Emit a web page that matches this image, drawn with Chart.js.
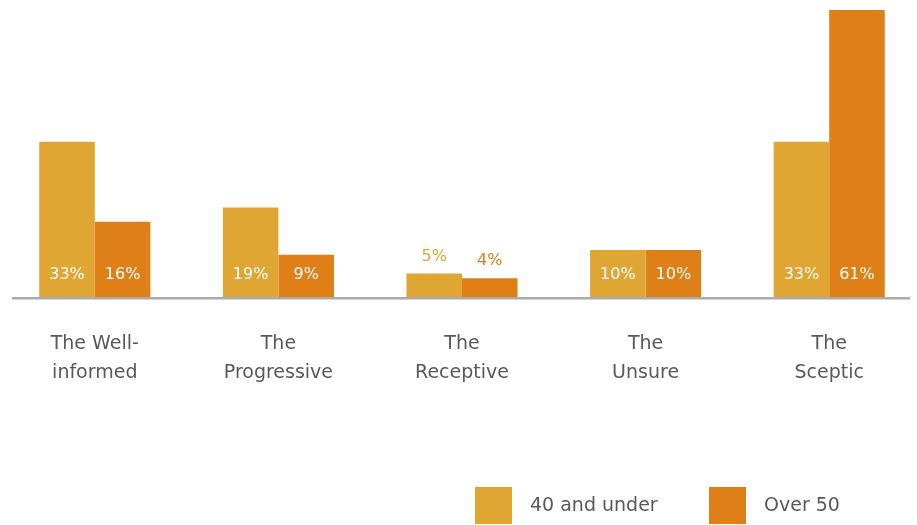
<!DOCTYPE html>
<html lang="en">
<head>
    <meta charset="UTF-8" />
    <title>Segments by age</title>
    <style>
        body { margin: 0; overflow: hidden; background: #fff; }
    </style>
</head>
<body>
    <canvas id="myChart" width="921" height="525"></canvas>

    <script src="https://cdn.jsdelivr.net/npm/chart.js"></script>
    <script>
        // values
        const categories = [['The Well-', 'informed'], ['The', 'Progressive'], ['The', 'Receptive'], ['The', 'Unsure'], ['The', 'Sceptic']];
        const under40 = [33, 19, 5, 10, 33];
        const over50 = [16, 9, 4, 10, 61];
        const seriesNames = ['40 and under', 'Over 50'];
        const colors = ['#E0A633', '#DF7F17'];

        const FONT = "'DejaVu Sans', Tahoma, sans-serif";

        // labels: white inside the bar, or above it in bar colour when the bar is short
        const barLabels = {
            id: 'barLabels',
            afterDatasetsDraw(chart) {
                const ctx = chart.ctx;
                const base = chart.scales.y.getPixelForValue(0);
                ctx.save();
                ctx.font = '16px ' + FONT;
                ctx.textAlign = 'center';
                ctx.textBaseline = 'middle';
                chart.data.datasets.forEach((ds, i) => {
                    chart.getDatasetMeta(i).data.forEach((bar, j) => {
                        const v = ds.data[j];
                        if (v >= 8) {
                            ctx.fillStyle = '#fff';
                            ctx.fillText(v + '%', bar.x, base - 22);
                        } else {
                            ctx.fillStyle = ds.backgroundColor;
                            ctx.fillText(v + '%', bar.x, bar.y - 17);
                        }
                    });
                });
                ctx.restore();
            }
        };

        // grey baseline
        const baseLine = {
            id: 'baseLine',
            afterDatasetsDraw(chart) {
                const ctx = chart.ctx;
                const y = chart.scales.y.getPixelForValue(0);
                ctx.save();
                ctx.strokeStyle = '#ABABAB';
                ctx.lineWidth = 2.5;
                ctx.beginPath();
                ctx.moveTo(12, y + 1.2);
                ctx.lineTo(910, y + 1.2);
                ctx.stroke();
                ctx.restore();
            }
        };

        // legend at the bottom right with big squares
        const squareLegend = {
            id: 'squareLegend',
            afterDraw(chart) {
                const ctx = chart.ctx;
                const xs = [475, 709];
                ctx.save();
                ctx.font = '19px ' + FONT;
                ctx.textBaseline = 'middle';
                chart.data.datasets.forEach((ds, i) => {
                    ctx.fillStyle = ds.backgroundColor;
                    ctx.fillRect(xs[i], 487, 37, 37);
                    ctx.fillStyle = '#595959';
                    ctx.fillText(ds.label, xs[i] + 55, 506);
                });
                ctx.restore();
            }
        };

        const data = {
            labels: categories,
            datasets: [
                { label: seriesNames[0], data: under40, backgroundColor: colors[0] },
                { label: seriesNames[1], data: over50, backgroundColor: colors[1] }
            ]
        };

        const config = {
            type: 'bar',
            data: data,
            options: {
                responsive: false,
                animation: false,
                devicePixelRatio: 1,
                layout: { padding: { top: 10, left: 3, right: 0, bottom: 0 } },
                datasets: {
                    bar: { categoryPercentage: 0.605, barPercentage: 1.0, borderWidth: 0 }
                },
                plugins: {
                    legend: { display: false },
                    tooltip: { enabled: false }
                },
                scales: {
                    x: {
                        grid: { display: false, drawTicks: false },
                        border: { display: false },
                        ticks: {
                            color: '#595959',
                            font: { family: FONT, size: 19, lineHeight: 1.5 },
                            padding: 33,
                            maxRotation: 0
                        },
                        afterFit: s => { s.height = 228; }
                    },
                    y: {
                        display: false,
                        min: 0,
                        max: 61
                    }
                }
            },
            plugins: [baseLine, barLabels, squareLegend]
        };

        const myChart = new Chart(document.getElementById('myChart'), config);
    </script>
</body>
</html>
